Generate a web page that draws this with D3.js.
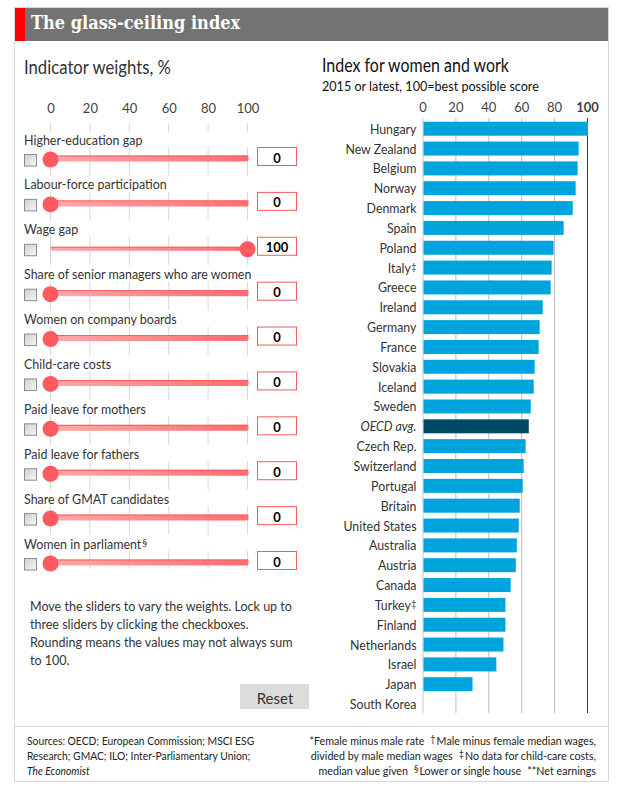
<!DOCTYPE html>
<html>
<head>
<meta charset="utf-8">
<script src="https://cdnjs.cloudflare.com/ajax/libs/d3/7.8.5/d3.min.js"></script>
<style>
	html, body { margin: 0; padding: 0; background: #fff; }
	svg { display: block; }
	text { font-family: Lato, sans-serif; fill: #333; }
	.axis path, .axis line { display: none; }
	.axis text { font-size: 13px; fill: #3f3f3f; }
</style>
</head>
<body>
<svg id="chart" width="618" height="789"></svg>
<script>
	var countries = ["Hungary","New Zealand","Belgium","Norway","Denmark","Spain","Poland","Italy","Greece","Ireland","Germany","France","Slovakia","Iceland","Sweden","OECD avg.","Czech Rep.","Switzerland","Portugal","Britain","United States","Australia","Austria","Canada","Turkey","Finland","Netherlands","Israel","Japan","South Korea"];
	var scores = [100,94.3,93.7,92.5,90.7,85.2,79.1,77.9,77.3,72.5,70.6,70,67.6,67,65.2,64,62.1,60.9,60.3,58.5,57.9,56.7,56.1,53,49.8,49.8,48.6,44.3,29.8,0];
	var countryMarks = {"Italy":"\u2021","Turkey":"\u2021"};

	var indicators = ["Higher-education gap","Labour-force participation","Wage gap","Share of senior managers who are women","Women on company boards","Child-care costs","Paid leave for mothers","Paid leave for fathers","Share of GMAT candidates","Women in parliament"];
	var weights = [0,0,100,0,0,0,0,0,0,0];
	var indicatorMarks = {"Women in parliament":"\u00a7"};

	var ticks = [0,20,40,60,80,100];

	var noteLines = ["Move the sliders to vary the weights. Lock up to","three sliders by clicking the checkboxes.","Rounding means the values may not always sum","to 100."];
	var sourceLines = ["Sources: OECD; European Commission; MSCI ESG","Research; GMAC; ILO; Inter-Parliamentary Union;","The Economist"];
	// each footnote line is a list of [text, superscript?] parts
	var footLines = [
		[["*Female minus male rate",0],["\u2020",1],["Male minus female median wages,",0]],
		[["divided by male median wages",0],["\u2021",1],["No data for child-care costs,",0]],
		[["median value given",0],["\u00a7",1],["Lower or single house",0],["**Net earnings",0]]
	];

	// the original face is narrower than anything installed, so squeeze the text a bit
	function narrow(sel, f) {
		sel.each(function() {
			var t = d3.select(this);
			t.attr("transform", "translate(" + t.attr("x") + "," + t.attr("y") + ") scale(" + f + ",1)")
				.attr("x", 0).attr("y", 0);
		});
	}

	// draws [text, superscript?] parts as separate texts, last one ending at xEnd
	function runEnd(g, parts, xEnd, yBase, size, supSize, f, gap, wideGap) {
		var cursor = xEnd;
		parts.slice().reverse().forEach(function(p, i, rev) {
			var t = g.append("text")
				.attr("text-anchor", "end")
				.attr("y", p[1] ? yBase - 3 : yBase)
				.style("font-size", (p[1] ? supSize : size) + "px")
				.text(p[0]);
			var w = t.node().getComputedTextLength() * f;
			t.attr("x", cursor).call(narrow, f);
			var next = rev[i + 1];
			cursor -= w + (next && (p[1] || !next[1]) ? wideGap : gap);
		});
	}

	var svg = d3.select("#chart");
	var defs = svg.append("defs");

	var trackGrad = defs.append("linearGradient").attr("id", "trackGrad");
	trackGrad.append("stop").attr("offset", "0%").attr("stop-color", "#ffaaaa");
	trackGrad.append("stop").attr("offset", "100%").attr("stop-color", "#ff6c70");

	var boxGrad = defs.append("linearGradient").attr("id", "boxGrad")
		.attr("x1", 0).attr("y1", 0).attr("x2", 1).attr("y2", 1);
	boxGrad.append("stop").attr("offset", "0%").attr("stop-color", "#cfcfcf");
	boxGrad.append("stop").attr("offset", "100%").attr("stop-color", "#f7f7f7");

	// frame and header
	var frame = svg.append("g").attr("stroke", "#d6d6d6").attr("fill", "none");
	frame.append("rect").attr("x", 14.5).attr("y", 7.5).attr("width", 594).attr("height", 774);
	frame.append("line").attr("x1", 15).attr("x2", 608).attr("y1", 726.5).attr("y2", 726.5);

	svg.append("rect").attr("x", 15).attr("y", 8).attr("width", 593).attr("height", 33).attr("fill", "#737373");
	svg.append("rect").attr("x", 15).attr("y", 8).attr("width", 10).attr("height", 33).attr("fill", "#ff0000");
	svg.append("text").attr("x", 31).attr("y", 29)
		.style("font-family", "'DejaVu Serif', serif").style("font-weight", "bold").style("font-size", "18px").style("fill", "#fff")
		.text("The glass-ceiling index").call(narrow, 0.9);

	svg.append("text").attr("x", 24).attr("y", 74).style("font-size", "19px").text("Indicator weights, %").call(narrow, 0.88);
	svg.append("text").attr("x", 322).attr("y", 72).style("font-size", "19px").style("fill", "#111").text("Index for women and work").call(narrow, 0.84);
	svg.append("text").attr("x", 322).attr("y", 91).style("font-size", "14px").style("fill", "#111").text("2015 or latest, 100=best possible score").call(narrow, 0.9);

	// ---- left panel: sliders
	var weightX = d3.scaleLinear().domain([0, 100]).range([50.5, 247.5]);
	var rowY = d3.scalePoint().domain(indicators).range([158.5, 562.5]);

	svg.append("g").attr("class", "axis").attr("transform", "translate(0,113)")
		.call(d3.axisTop(weightX).tickValues(ticks).tickSize(0).tickPadding(0));

	var weightGrid = svg.append("g").attr("stroke", "#d8d8d8");
	weightGrid.selectAll("line.head").data(ticks).enter().append("line").attr("class", "head")
		.attr("x1", weightX).attr("x2", weightX).attr("y1", 123).attr("y2", 132);

	var gridRows = weightGrid.selectAll("g").data(indicators).enter().append("g");
	gridRows.selectAll("line").data(function(d) { return ticks.map(function(t) { return [d, t]; }); })
		.enter().append("line")
		.attr("x1", function(d) { return weightX(d[1]); })
		.attr("x2", function(d) { return weightX(d[1]); })
		.attr("y1", function(d) { return rowY(d[0]) - 11.5; })
		.attr("y2", function(d) { return rowY(d[0]) + (d[0] === "Women in parliament" ? 6 : 17); });

	var rows = svg.selectAll("g.row").data(indicators).enter().append("g").attr("class", "row");

	rows.append("text").attr("x", 24).attr("y", function(d) { return rowY(d) - 14; })
		.style("font-size", "14px").text(function(d) { return d; })
		.call(narrow, 0.89)
		.each(function(d) {
			if (!indicatorMarks[d]) return;
			d3.select(this.parentNode).append("text")
				.attr("x", 24 + this.getComputedTextLength() * 0.89 + 1).attr("y", rowY(d) - 17)
				.style("font-size", "10px").text(indicatorMarks[d]);
		});

	rows.append("rect").attr("x", 24.5).attr("y", function(d) { return rowY(d) - 4; })
		.attr("width", 12).attr("height", 11.5)
		.attr("fill", "url(#boxGrad)").attr("stroke", "#8c8c8c");

	rows.append("rect")
		.attr("x", weightX(0))
		.attr("y", function(d, i) { return rowY(d) - (weights[i] === 100 ? 1.5 : 3); })
		.attr("width", weightX(100) - weightX(0) + 1)
		.attr("height", function(d, i) { return weights[i] === 100 ? 4 : 6; })
		.attr("rx", 2)
		.attr("fill", "url(#trackGrad)");
	rows.append("line")
		.attr("x1", weightX(0)).attr("x2", weightX(100) + 1)
		.attr("y1", function(d, i) { return rowY(d) - (weights[i] === 100 ? 1.5 : 3) + 0.5; })
		.attr("y2", function(d, i) { return rowY(d) - (weights[i] === 100 ? 1.5 : 3) + 0.5; })
		.attr("stroke", "#ff5a5f");

	rows.append("circle")
		.attr("cx", function(d, i) { return weightX(weights[i]); })
		.attr("cy", function(d) { return rowY(d) + 1; })
		.attr("r", 8).attr("fill", "#ff5a5f");

	rows.append("rect").attr("x", 257.5).attr("y", function(d) { return rowY(d) - 11; })
		.attr("width", 39).attr("height", 18).attr("fill", "#fff").attr("stroke", "#f25c60");
	rows.append("text").attr("x", 277).attr("y", function(d) { return rowY(d) + 4; })
		.attr("text-anchor", "middle")
		.style("font-size", "13px").style("font-weight", "bold").style("fill", "#000")
		.text(function(d, i) { return weights[i]; });

	svg.append("g").selectAll("text").data(noteLines).enter().append("text")
		.attr("x", 30).attr("y", function(d, i) { return 611 + i * 18; })
		.style("font-size", "14px").text(function(d) { return d; })
		.call(narrow, 0.895);

	svg.append("rect").attr("x", 240).attr("y", 684).attr("width", 69).attr("height", 25).attr("fill", "#dcdcdc");
	svg.append("text").attr("x", 275).attr("y", 704).attr("text-anchor", "middle").style("font-size", "15px").text("Reset");

	// ---- right panel: bars
	var x = d3.scaleLinear().domain([0, 100]).range([423, 587.5]);
	var y = d3.scaleBand().domain(countries).range([118.8, 714]).paddingInner(0.295).paddingOuter(0.1475);

	var barGrid = svg.append("g");
	barGrid.selectAll("line").data(ticks).enter().append("line")
		.attr("x1", x).attr("x2", x).attr("y1", 118).attr("y2", 713)
		.attr("stroke", function(d) { return d === 100 ? "#c7040a" : d === 0 ? "#b5cfe0" : "#bdbdbd"; });

	var barAxis = svg.append("g").attr("class", "axis").attr("transform", "translate(-0.5,112)")
		.call(d3.axisTop(x).tickValues(ticks).tickSize(0).tickPadding(0));
	barAxis.selectAll("text").style("font-weight", function(d) { return d === 100 ? "bold" : null; });

	svg.append("g").selectAll("rect").data(countries).enter().append("rect")
		.attr("x", x(0) + 0.5)
		.attr("y", function(d) { return y(d); })
		.attr("width", function(d, i) { return x(scores[i]) - x(0); })
		.attr("height", y.bandwidth())
		.attr("fill", function(d) { return d === "OECD avg." ? "#004a66" : "#00a4dc"; });

	var countryLabels = svg.append("g");
	countries.forEach(function(d) {
		var yBase = y(d) + y.bandwidth() / 2 + 5;
		var parts = countryMarks[d] ? [[d, 0], [countryMarks[d], 1]] : [[d, 0]];
		runEnd(countryLabels, parts, 416.5, yBase, 14, 10, 0.885, 0.5, 0.5);
		if (d === "OECD avg.") countryLabels.selectAll("text").filter(function() { return this.textContent === d; }).style("font-style", "italic");
	});

	// ---- footer
	svg.append("g").selectAll("text").data(sourceLines).enter().append("text")
		.attr("x", 27).attr("y", function(d, i) { return 745 + i * 15; })
		.style("font-size", "11.5px").style("fill", "#222")
		.style("font-style", function(d, i) { return i === 2 ? "italic" : null; })
		.text(function(d) { return d; })
		.call(narrow, 0.897);

	var footG = svg.append("g");
	footLines.forEach(function(parts, i) {
		runEnd(footG, parts, 596, 745 + i * 15, 11.5, 9.5, 0.93, 1, 6);
	});
	footG.selectAll("text").style("fill", "#222");
</script>
</body>
</html>
